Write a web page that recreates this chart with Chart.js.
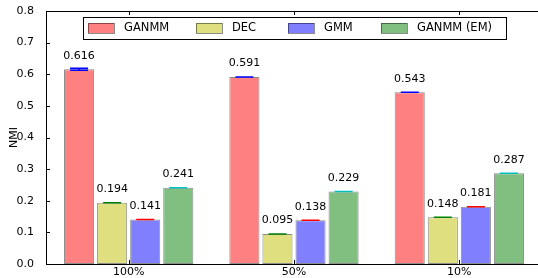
<!DOCTYPE html>
<html>
<head>
<meta charset="utf-8">
<script src="https://cdn.jsdelivr.net/npm/chart.js@4/dist/chart.umd.min.js"></script>
<style>
  html, body { margin: 0; padding: 0; background: #fff; overflow: hidden; }
  #wrap { width: 546px; height: 278px; }
</style>
</head>
<body>
<div id="wrap"><canvas id="nmi" width="546" height="278"></canvas></div>
<script>
// categories = fraction of labelled data used
const categories = ["100%", "50%", "10%"];

const ganmm = [0.616, 0.591, 0.543];
const dec = [0.194, 0.095, 0.148];
const gmm = [0.141, 0.138, 0.181];
const ganmmEm = [0.241, 0.229, 0.287];

// std errors, only the first GANMM one is visible
const ganmmErr = [0.003, 0.0, 0.0];
const decErr = [0.0, 0.0, 0.0];
const gmmErr = [0.0, 0.0, 0.0];
const ganmmEmErr = [0.0, 0.0, 0.0];

const yTicks = [0.0, 0.1, 0.2, 0.3, 0.4, 0.5, 0.6, 0.7, 0.8];

const FONT = "DejaVu Sans";

function series(label, data, err, fill, capColor) {
  return {
    label: label,
    data: data,
    err: err,
    capColor: capColor,
    backgroundColor: fill,
    borderColor: "rgba(0,0,0,0.45)",
    borderWidth: 1,
    borderSkipped: false,
    categoryPercentage: 0.8,
    barPercentage: 0.91,
  };
}

// error caps + value labels above each bar
const barExtras = {
  id: "barExtras",
  afterDatasetsDraw(chart) {
    const ctx = chart.ctx;
    const y = chart.scales.y;
    ctx.save();
    chart.data.datasets.forEach((ds, di) => {
      const meta = chart.getDatasetMeta(di);
      meta.data.forEach((bar, i) => {
        const v = ds.data[i];
        const e = ds.err[i];
        const top = y.getPixelForValue(v + e);
        const bot = y.getPixelForValue(v - e);
        ctx.strokeStyle = ds.capColor;
        ctx.lineWidth = 1.5;
        ctx.beginPath();
        ctx.moveTo(bar.x - 9, top);
        ctx.lineTo(bar.x + 9, top);
        ctx.moveTo(bar.x - 9, bot);
        ctx.lineTo(bar.x + 9, bot);
        if (e > 0) {
          ctx.moveTo(bar.x, top);
          ctx.lineTo(bar.x, bot);
        }
        ctx.stroke();

        ctx.fillStyle = "#000";
        ctx.font = "11px " + FONT;
        ctx.textAlign = "center";
        ctx.textBaseline = "bottom";
        ctx.fillText(v.toFixed(3), bar.x, y.getPixelForValue(v) - 8);
      });
    });
    ctx.restore();
  },
};

// top spine, inward ticks, x labels and the boxed legend inside the axes
const frame = {
  id: "frame",
  afterDraw(chart) {
    const ctx = chart.ctx;
    const a = chart.chartArea;
    const x = chart.scales.x;
    const y = chart.scales.y;
    ctx.save();
    ctx.strokeStyle = "#000";
    ctx.lineWidth = 1;
    ctx.beginPath();
    ctx.moveTo(a.left, a.top + 0.5);
    ctx.lineTo(a.right, a.top + 0.5);
    for (let i = 0; i < categories.length; i++) {
      const px = Math.round(x.getPixelForValue(i)) + 0.5;
      ctx.moveTo(px, a.bottom);
      ctx.lineTo(px, a.bottom - 4);
      ctx.moveTo(px, a.top);
      ctx.lineTo(px, a.top + 4);
    }
    for (const t of yTicks) {
      const py = Math.round(y.getPixelForValue(t)) + 0.5;
      ctx.moveTo(a.left, py);
      ctx.lineTo(a.left + 4, py);
    }
    ctx.stroke();

    // category labels under the axis
    ctx.fillStyle = "#000";
    ctx.font = "11px " + FONT;
    ctx.textAlign = "center";
    ctx.textBaseline = "top";
    categories.forEach((c, i) => {
      ctx.fillText(c, x.getPixelForValue(i), a.bottom + 3);
    });

    // legend
    const lx = 83, ly = 17, lw = 423, lh = 22;
    ctx.fillStyle = "#fff";
    ctx.fillRect(lx, ly, lw, lh);
    ctx.strokeRect(lx + 0.5, ly + 0.5, lw, lh);
    const itemX = [88, 196, 288, 381];
    ctx.font = "11.5px " + FONT;
    ctx.textAlign = "left";
    ctx.textBaseline = "middle";
    chart.data.datasets.forEach((ds, di) => {
      const px = itemX[di];
      ctx.fillStyle = ds.backgroundColor;
      ctx.fillRect(px, ly + 6, 26, 10);
      ctx.strokeStyle = "rgba(0,0,0,0.45)";
      ctx.strokeRect(px + 0.5, ly + 6.5, 26, 10);
      ctx.fillStyle = "#000";
      ctx.fillText(ds.label, px + 36, ly + 11.5);
    });
    ctx.restore();
  },
};

new Chart(document.getElementById("nmi"), {
  type: "bar",
  data: {
    labels: categories,
    datasets: [
      series("GANMM", ganmm, ganmmErr, "#ff8080", "#0000ff"),
      series("DEC", dec, decErr, "#dfdf80", "#008000"),
      series("GMM", gmm, gmmErr, "#8080ff", "#ff0000"),
      series("GANMM (EM)", ganmmEm, ganmmEmErr, "#80bf80", "#00bfbf"),
    ],
  },
  options: {
    responsive: false,
    animation: false,
    devicePixelRatio: 1,
    layout: { padding: { top: 11, right: 4, left: 0, bottom: 0 } },
    plugins: { legend: { display: false }, tooltip: { enabled: false } },
    scales: {
      x: {
        grid: { display: false },
        border: { display: true, color: "#000", width: 1 },
        ticks: { display: false },
        afterFit(s) { s.height = 14; },
      },
      y: {
        min: 0,
        max: 0.8,
        grid: { display: false },
        border: { display: true, color: "#000", width: 1 },
        afterBuildTicks(s) { s.ticks = yTicks.map((v) => ({ value: v })); },
        ticks: {
          color: "#000",
          font: { family: FONT, size: 11 },
          padding: 4,
          callback: (v) => v.toFixed(1),
        },
        title: { display: true, text: "NMI", color: "#000", font: { family: FONT, size: 11 }, padding: { top: 8, bottom: 0 } },
        afterFit(s) { s.width = 46; },
      },
    },
  },
  plugins: [barExtras, frame],
});
</script>
</body>
</html>
